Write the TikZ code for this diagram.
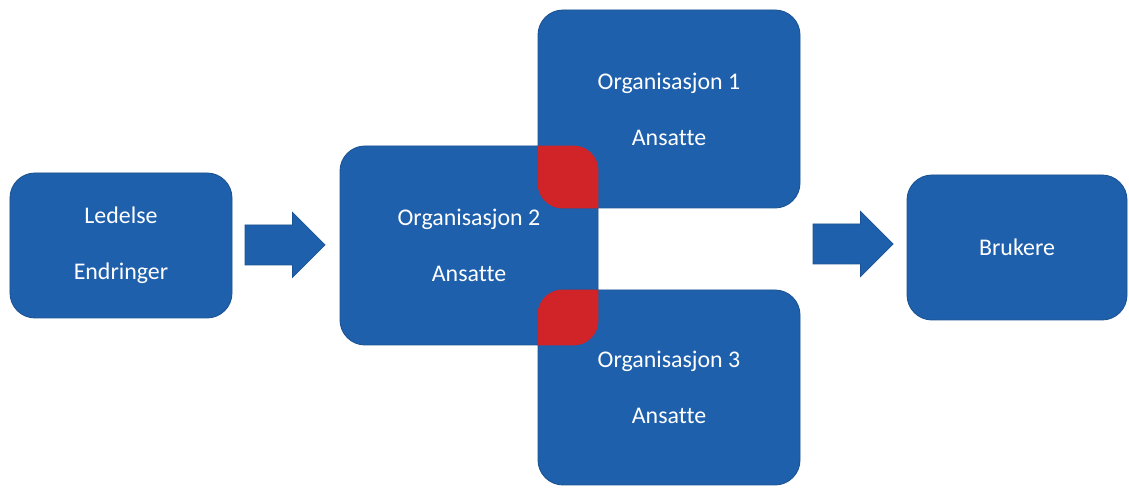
\documentclass[tikz,border=0pt]{standalone}
\usepackage{fontspec}
\setmainfont{Carlito}[Ligatures=NoCommon]
\definecolor{boxblue}{RGB}{31,96,172}
\definecolor{cutred}{RGB}{208,36,40}
\tikzset{
  box/.style={draw=boxblue!85!black, line width=0.5pt, fill=boxblue, rounded corners=0.5cm,
    text=white, align=center, font=\fontsize{13.6}{32}\selectfont, inner sep=0pt},
  bigarrow/.style={fill=boxblue, draw=boxblue!85!black, line width=0.4pt}
}
\begin{document}
\begin{tikzpicture}
    \useasboundingbox (0,0) rectangle (22.58,9.76);

    \node[box, minimum width=4.44cm, minimum height=2.9cm] (led) at (2.42,4.85) {Ledelse\\Endringer};
    \node[box, minimum width=5.16cm, minimum height=3.98cm] (org2) at (9.38,4.85) {Organisasjon 2\\Ansatte};
    \node[box, minimum width=5.24cm, minimum height=3.96cm] (org1) at (13.38,7.58) {Organisasjon 1\\Ansatte};
    \node[box, minimum width=5.24cm, minimum height=3.9cm] (org3) at (13.38,2.01) {Organisasjon 3\\Ansatte};
    \node[box, minimum width=4.4cm, minimum height=2.9cm] (bruk) at (20.34,4.81) {Brukere};

    % overlaps
    \begin{scope}
        \clip[rounded corners=0.5cm] (org2.south west) rectangle (org2.north east);
        \fill[cutred, rounded corners=0.5cm] (org1.south west) rectangle (org1.north east);
        \fill[cutred, rounded corners=0.5cm] (org3.south west) rectangle (org3.north east);
    \end{scope}

    % block arrows
    \coordinate (a1) at (4.9,4.86);
    \coordinate (a2) at (16.26,4.88);
    \foreach \a in {a1,a2}
        \draw[bigarrow] (\a) ++(0,0.4) -- ++(0.95,0) -- ++(0,0.25) -- ++(0.65,-0.65)
            -- ++(-0.65,-0.65) -- ++(0,0.25) -- ++(-0.95,0) -- cycle;
\end{tikzpicture}
\end{document}
